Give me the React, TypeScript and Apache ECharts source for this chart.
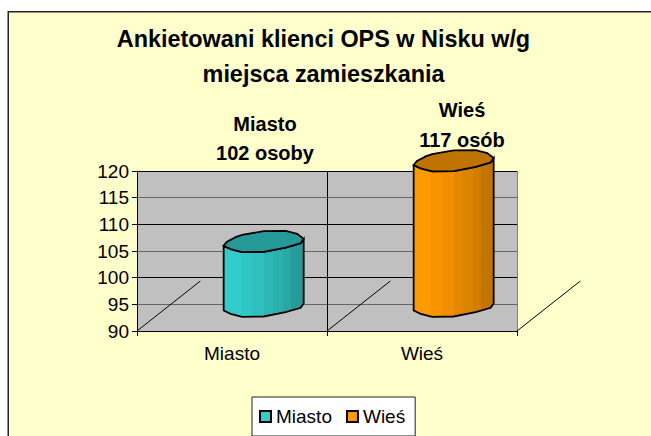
import React, { useEffect, useRef } from "react";
import * as echarts from "echarts";

const categories = ["Miasto", "Wieś"];
const seriesValues = [102, 117];
const labelTexts = ["Miasto\n102 osoby", "Wieś\n117 osób"];
const yTicks = [90, 95, 100, 105, 110, 115, 120];
const titleText = "Ankietowani klienci OPS w Nisku w/g\nmiejsca zamieszkania";
const baseColors = ["#33CCCC", "#FF9900"];
const topColors = ["#269999", "#BF7300"];
const stripeStops = [0, 0.22, 0.35, 0.5, 0.62, 0.74, 0.84, 1];
const stripeShade = [1, 0.97, 0.94, 0.89, 0.86, 0.82, 0.76];

const topShape: number[][] = [
  [-40, 4.3], [-37, 0.5], [-28, -4.4], [-21.5, -6.7], [0, -10.4], [22, -10.7], [33.5, -7.7],
  [40, -2.7], [37, 1.6], [22, 6], [0, 10.3], [-21.5, 10.6], [-33, 7.6],
];
const frontBottomShape = topShape.slice(7).concat([topShape[0]]);

function shade(hex: string, k: number) {
  const n = parseInt(hex.slice(1), 16);
  const c = [(n >> 16) & 255, (n >> 8) & 255, n & 255].map((v) => Math.round(v * k));
  return `rgb(${c[0]},${c[1]},${c[2]})`;
}

function makeRender(index: number) {
  return (_p: any, api: any) => {
    const band = api.size([1, 0])[0];
    const base = api.coord([api.value(0), yTicks[0]]);
    const top = api.coord([api.value(0), api.value(1)]);
    const cx = base[0] + band / 6;
    const by = base[1] - 24.8;
    const h = (base[1] - top[1]) * 1.01;
    const ty = by - h;
    const colorStops: any[] = [];
    stripeShade.forEach((k, i) => {
      const c = shade(baseColors[index], k);
      colorStops.push({ offset: stripeStops[i], color: c }, { offset: stripeStops[i + 1], color: c });
    });
    const body = [
      [cx - 40, ty + 4.3],
      ...frontBottomShape.slice().reverse().map((p) => [cx + p[0], ty + p[1]]),
      [cx + 40, ty - 2.7],
      ...frontBottomShape.map((p) => [cx + p[0], by + p[1]]),
    ];
    const lines: any[] = [];
    const left = base[0] - band / 2;
    const ends = index === categories.length - 1 ? [left, left + band] : [left];
    ends.forEach((x) =>
      lines.push({
        type: "line",
        shape: { x1: x, y1: base[1], x2: x + band / 3, y2: base[1] - 50 },
        style: { stroke: "#000", lineWidth: 1 },
      })
    );
    return {
      type: "group",
      children: [
        ...lines,
        {
          type: "polygon",
          shape: { points: body },
          style: {
            fill: { type: "linear", x: 0, y: 0, x2: 1, y2: 0, colorStops },
            stroke: "#000",
            lineWidth: 1.8,
          },
        },
        {
          type: "polygon",
          shape: { points: topShape.map((p) => [cx + p[0], ty + p[1]]) },
          style: { fill: topColors[index], stroke: "#000", lineWidth: 1.8 },
        },
      ],
    };
  };
}

export default function App() {
  const ref = useRef<HTMLDivElement>(null);
  useEffect(() => {
    document.body.style.margin = "0";
    document.body.style.background = "#fff";
    const chart = echarts.init(ref.current!, null, { renderer: "svg" });
    const font = "Liberation Sans";
    chart.setOption({
      animation: false,
      backgroundColor: "#fff",
      textStyle: { fontFamily: font },
      grid: {
        left: 137,
        top: 171,
        width: 380,
        height: 160,
        show: true,
        backgroundColor: "#C0C0C0",
        borderWidth: 0,
      },
      legend: {
        left: 252,
        top: 397,
        orient: "horizontal",
        data: categories,
        icon: "rect",
        itemWidth: 11,
        itemHeight: 11,
        itemGap: 14,
        backgroundColor: "#fff",
        borderColor: "#222",
        borderWidth: 1,
        padding: [10, 10, 10, 7],
        textStyle: { fontSize: 19, color: "#000", fontFamily: font, padding: [0, 0, 0, 0] },
      },
      xAxis: {
        type: "category",
        data: categories,
        axisLine: { lineStyle: { color: "#000" } },
        axisTick: { show: true, length: 5, alignWithLabel: false, lineStyle: { color: "#000" } },
        axisLabel: { fontSize: 19, color: "#000", margin: 13 },
        splitLine: { show: true, lineStyle: { color: ["#000", "#000", "#808080"] } },
      },
      yAxis: {
        type: "value",
        min: yTicks[0],
        max: yTicks[yTicks.length - 1],
        interval: 5,
        axisLine: { show: true, lineStyle: { color: "#000" } },
        axisTick: { show: true, length: 5, lineStyle: { color: "#000" } },
        axisLabel: { fontSize: 19, color: "#000", margin: 8 },
        splitLine: { show: true, lineStyle: { color: ["#000", "#666"] } },
      },
      graphic: [
        {
          type: "rect",
          z: -10,
          silent: true,
          shape: { x: 8.25, y: 11.75, width: 660, height: 440 },
          style: { fill: "#FFFFCC", stroke: "#222", lineWidth: 1.5 },
        },
        {
          type: "text",
          x: 323.5,
          y: 21.5,
          style: {
            text: titleText,
            fontFamily: font,
            fontSize: 23.4,
            fontWeight: "bold",
            fill: "#000",
            textAlign: "center",
            lineHeight: 35,
          },
        },
        {
          type: "text",
          x: 265,
          y: 109,
          style: { text: labelTexts[0], fontFamily: font, fontSize: 20, fontWeight: "bold", fill: "#000", textAlign: "center", lineHeight: 29 },
        },
        {
          type: "text",
          x: 462,
          y: 94.5,
          style: { text: labelTexts[1], fontFamily: font, fontSize: 20, fontWeight: "bold", fill: "#000", textAlign: "center", lineHeight: 30 },
        },
      ],
      series: categories.map((name, i) => ({
        name,
        type: "custom",
        coordinateSystem: "cartesian2d",
        clip: false,
        z: 5,
        itemStyle: { color: baseColors[i], borderColor: "#000", borderWidth: 1.5 },
        encode: { x: 0, y: 1 },
        data: [[i, seriesValues[i]]],
        renderItem: makeRender(i),
      })),
    });
    return () => chart.dispose();
  }, []);
  return <div ref={ref} style={{ position: "fixed", left: 0, top: 0, width: 651, height: 436 }} />;
}
